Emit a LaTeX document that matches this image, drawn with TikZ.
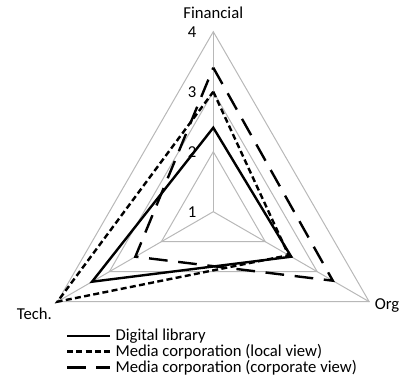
\documentclass[tikz,border=0pt]{standalone}
\usepackage{fontspec}
\setmainfont{Carlito}
\usetikzlibrary{positioning}
\usetikzlibrary{calc}

\begin{document}
\begin{tikzpicture}[x=0.75pt, y=0.75pt,
        gridline/.style={draw=black!28, line width=0.75pt},
        library/.style={line width=1.8pt},
        local/.style={line width=1.8pt, dash pattern=on 4.5pt off 2.5pt},
        corporate/.style={line width=1.8pt, dash pattern=on 14pt off 8pt},
        axislabel/.style={font=\fontsize{12.5}{14}\selectfont, inner sep=0pt},
        ticklabel/.style={font=\fontsize{12.5}{14}\selectfont, inner sep=0pt},
        keytext/.style={font=\fontsize{12.5}{14}\selectfont, inner sep=0pt}]
            \path[use as bounding box] (0,0) rectangle (401,386);
            \coordinate (centre) at (213.3,174.3);
            \coordinate (fin) at ($(centre)+(90:180)$);
            \coordinate (tech) at ($(centre)+(210:180)$);
            \coordinate (org) at ($(centre)+(330:180)$);

            % grid
            \foreach \r in {60,120,180}
                \draw[gridline] ($(centre)+(90:\r)$) -- ($(centre)+(210:\r)$) -- ($(centre)+(330:\r)$) -- cycle;
            \draw[gridline] (centre) -- (fin);
            \draw[gridline] (centre) -- (tech);
            \draw[gridline] (centre) -- (org);

            \foreach \v in {1,...,4}
                \node[ticklabel, left=12.5pt] (tick_\v) at ($(centre)+(90:{(\v-1)*60})$) {\v};

            \node[axislabel, above=9.5pt of fin] (fin_label) {Financial};
            \node[axislabel, below left=4.5pt and 4pt of tech] (tech_label) {Tech.};
            \node[axislabel, right=4pt of org, yshift=-3pt] (org_label) {Org};

            % series
            \coordinate (lib_fin) at ($(centre)+(90:84)$);
            \coordinate (lib_org) at ($(centre)+(330:90)$);
            \coordinate (lib_tech) at ($(centre)+(210:140)$);
            \coordinate (loc_fin) at ($(centre)+(90:120)$);
            \coordinate (loc_org) at ($(centre)+(330:87)$);
            \coordinate (loc_tech) at ($(centre)+(210:180)$);
            \coordinate (corp_fin) at ($(centre)+(90:144)$);
            \coordinate (corp_org) at ($(centre)+(330:138)$);
            \coordinate (corp_tech) at ($(centre)+(210:90)$);

            \draw[library] (lib_fin) -- (lib_org) -- (lib_tech) -- cycle;
            \draw[local] (loc_fin) -- (loc_org) -- (loc_tech) -- cycle;
            \draw[corporate] (corp_fin) -- (corp_org) -- (corp_tech) -- cycle;

            % legend
            \foreach \sty/\txt/\y [count=\i] in {library/{Digital library}/50, local/{Media corporation (local view)}/34.3, corporate/{Media corporation (corporate view)}/18.3} {
                \coordinate (key_\i) at (67,\y);
                \coordinate[right=32.25pt of key_\i] (key_end_\i);
                \node[keytext, right=4pt of key_end_\i] (key_text_\i) {\txt};
                \draw[\sty] (key_\i) -- (key_end_\i);
            }
        \end{tikzpicture}
\end{document}
